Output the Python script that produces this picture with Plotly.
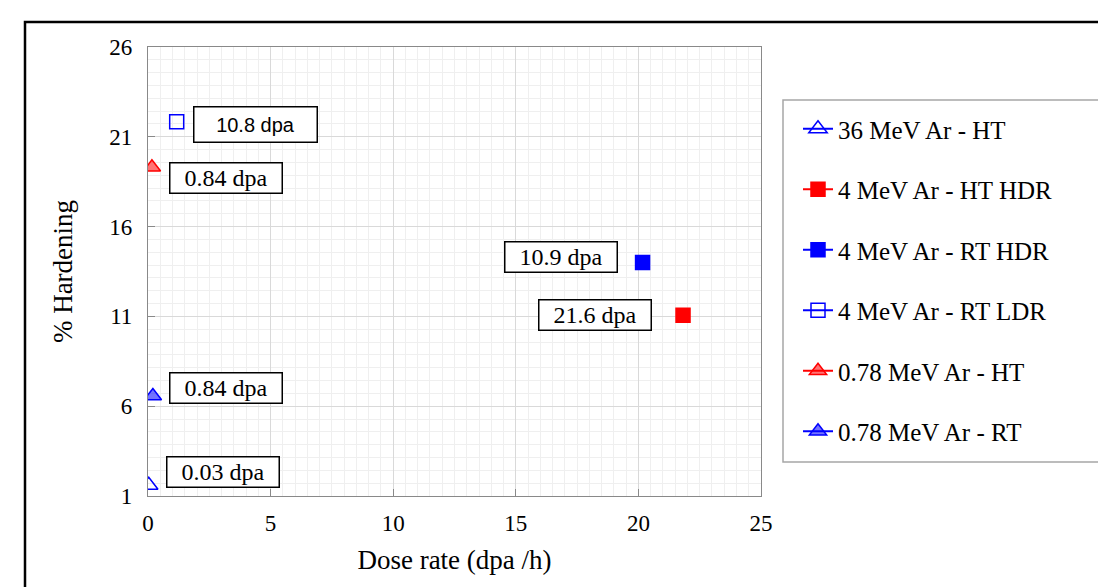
import plotly.graph_objects as go

# ---- data ----
series_names = ["36 MeV Ar - HT", "4 MeV Ar - HT HDR", "4 MeV Ar - RT HDR",
                "4 MeV Ar - RT LDR", "0.78 MeV Ar - HT", "0.78 MeV Ar - RT"]
dose_rate = [0.03, 21.82, 20.17, 1.17, 0.16, 0.2]        # dpa/h
hardening = [1.6, 11.06, 14.0, 21.84, 19.3, 6.57]        # %
series_colors = ["#0000ff", "#ff0000", "#0000ff", "#0000ff", "#ff0000", "#0000ff"]
series_fills = ["rgba(0,0,0,0)", "#ff0000", "#0000ff", "rgba(0,0,0,0)",
                "rgba(255,0,0,0.55)", "rgba(0,0,255,0.55)"]
series_symbols = ["triangle-up", "square", "square", "square", "triangle-up", "triangle-up"]
series_sizes = [16, 14, 14, 14, 15, 15]

label_texts = ["10.8 dpa", "0.84 dpa", "0.84 dpa", "0.03 dpa", "10.9 dpa", "21.6 dpa"]
label_x = [4.40, 3.20, 3.18, 3.04, 16.86, 18.25]
label_y = [21.71, 18.73, 7.04, 2.36, 14.33, 11.08]
label_sans = [True, False, False, False, False, False]

x_ticks = [0, 5, 10, 15, 20, 25]
y_ticks = [1, 6, 11, 16, 21, 26]

SERIF = "Liberation Serif"
SANS = "Liberation Sans"

fig = go.Figure()
for i, name in enumerate(series_names):
    fig.add_trace(go.Scatter(
        x=[dose_rate[i]], y=[hardening[i]], name=name,
        mode="lines+markers", legendgroup=f"g{i}",
        line=dict(color=series_colors[i], width=2),
        marker=dict(symbol=series_symbols[i], size=series_sizes[i], color=series_fills[i],
                    line=dict(color=series_colors[i], width=1.5)),
        showlegend=True,
    ))

for t, xx, yy, sans in zip(label_texts, label_x, label_y, label_sans):
    fig.add_annotation(
        x=xx, y=yy, xref="x", yref="y", text=t, showarrow=False,
        font=dict(family=SANS if sans else SERIF, size=20 if sans else 24, color="black"),
        bgcolor="white", bordercolor="black", borderwidth=1.5, borderpad=0,
        width=122 if sans else 111, height=34 if sans else 29,
    )

# page body adds an 8px offset; figure coordinates below are page pixels
OFF = 8
W, H = 1106 - OFF, 587 - OFF
L, R, T, B = 148 - OFF, 761 - OFF, 47 - OFF, 496 - OFF
def px(x):
    return (x - OFF - L) / (R - L)
def py(y):
    return (B - (y - OFF)) / (B - T)

# legend box
fig.add_shape(type="rect", xref="paper", yref="paper",
              x0=px(783), x1=px(1101), y0=py(462), y1=py(100),
              line=dict(color="#a6a6a6", width=1.5), fillcolor="rgba(0,0,0,0)", layer="below")
# outer frame (top and left edges visible)
fig.add_shape(type="rect", xref="paper", yref="paper",
              x0=px(25), x1=px(1300), y0=py(800), y1=py(22),
              line=dict(color="black", width=2.5), fillcolor="rgba(0,0,0,0)")

axis_common = dict(
    showline=True, linecolor="#898989", linewidth=1.2, mirror=True,
    ticks="inside", tickcolor="#898989", ticklen=7,
    showgrid=True, gridcolor="#d9d9d9", gridwidth=1,
    zeroline=False, tickfont=dict(family=SERIF, size=23, color="black"),
)

fig.update_xaxes(
    range=[0, 25], tickvals=x_ticks, ticktext=[str(v) for v in x_ticks],
    minor=dict(dtick=0.5, tick0=0, showgrid=True, gridcolor="#efefef", gridwidth=1, ticks=""),
    title=dict(text="Dose rate (dpa /h)", font=dict(family=SERIF, size=27, color="black"), standoff=15),
    ticklabelstandoff=6, **axis_common)
fig.update_yaxes(
    range=[1, 26], tickvals=y_ticks, ticktext=[str(v) for v in y_ticks],
    minor=dict(dtick=5/7, tick0=1, showgrid=True, gridcolor="#efefef", gridwidth=1, ticks=""),
    title=dict(text="% Hardening", font=dict(family=SERIF, size=27, color="black"), standoff=28),
    ticklabelstandoff=10, **axis_common)

fig.update_layout(
    width=W, height=H,
    margin=dict(l=L, r=W - R, t=T, b=H - B, autoexpand=False),
    paper_bgcolor="white", plot_bgcolor="white",
    legend=dict(x=px(798), y=py(106), xanchor="left", yanchor="top",
                font=dict(family=SERIF, size=25, color="black"),
                bgcolor="rgba(0,0,0,0)", borderwidth=0, tracegroupgap=25,
                itemwidth=30),
    showlegend=True,
)

fig.write_html("out.html")
